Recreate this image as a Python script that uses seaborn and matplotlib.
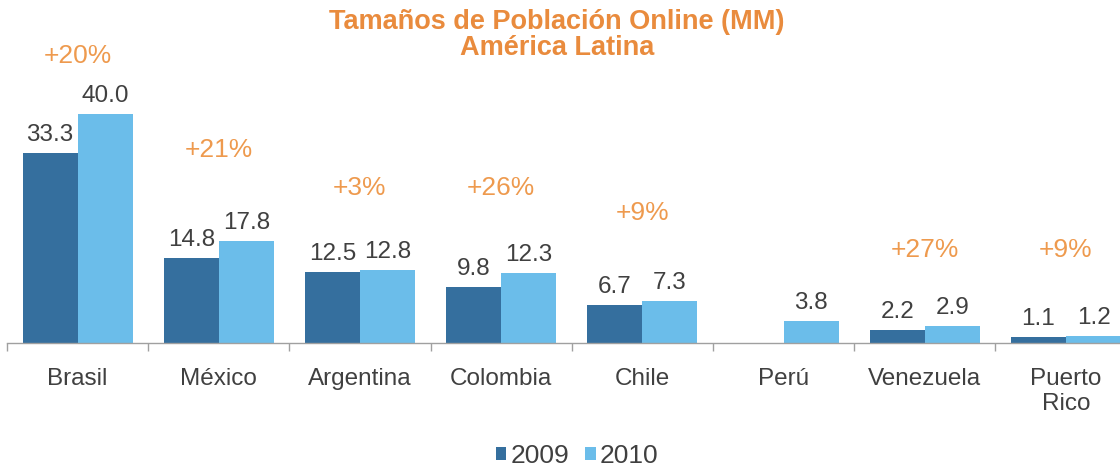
import numpy as np
import pandas as pd
import matplotlib
matplotlib.use("Agg")
import matplotlib.pyplot as plt
from matplotlib.patches import Patch
import seaborn as sns

# ---- data ----
paises = ["Brasil", "México", "Argentina", "Colombia", "Chile", "Perú", "Venezuela", "Puerto\nRico"]
v2009 = [33.3, 14.8, 12.5, 9.8, 6.7, np.nan, 2.2, 1.1]
v2010 = [40.0, 17.8, 12.8, 12.3, 7.3, 3.8, 2.9, 1.2]
crecimiento = ["+20%", "+21%", "+3%", "+26%", "+9%", "", "+27%", "+9%"]
anios = ["2009", "2010"]

# label heights for growth annotations (layout, in data units)
crec_y = [50.2, 33.8, 27.2, 27.2, 22.8, 0, 16.2, 16.2]

dark = "#356F9E"
light = "#6BBDEA"
orange = "#EE9A4E"
title_orange = "#E98B3D"
txt = "#404040"

df = pd.DataFrame({
    "País": paises * 2,
    "Usuarios": v2009 + v2010,
    "Año": [anios[0]] * len(paises) + [anios[1]] * len(paises),
})

sns.set_style("white")
plt.rcParams["font.family"] = ["Liberation Sans", "DejaVu Sans"]

fig = plt.figure(figsize=(11.2, 4.7), dpi=100)
W, H = 1120, 470
ax = fig.add_axes([7 / W, 127 / H, 8 * 141.2 / W, 343 / H])

sns.barplot(data=df, x="País", y="Usuarios", hue="Año", order=paises,
            hue_order=anios, palette=[dark, light], width=0.78,
            saturation=1, errorbar=None, legend=False, linewidth=0, ax=ax)

ax.set_xlim(-0.5, 7.5)
ax.set_ylim(0, 60.0)

# value labels
for cont in ax.containers:
    labs = ["" if (v is None or np.isnan(v)) else f"{v:.1f}" for v in cont.datavalues]
    ax.bar_label(cont, labels=labs, padding=5, fontsize=17.5, color=txt)

# growth labels
for i, (t, yy) in enumerate(zip(crecimiento, crec_y)):
    if t:
        ax.text(i, yy, t, ha="center", va="center", fontsize=19, color=orange)

# axes styling
for s in ["top", "left", "right"]:
    ax.spines[s].set_visible(False)
ax.spines["bottom"].set_color("#A0A0A0")
ax.spines["bottom"].set_linewidth(1.0)
ax.set_yticks([])
ax.set_xlabel("")
ax.set_ylabel("")
ax.set_xticks(range(len(paises)))
ax.set_xticklabels(paises, fontsize=17.5, color=txt)
ax.tick_params(axis="x", which="major", length=0, pad=18)
ax.set_xticks(np.arange(-0.5, len(paises) + 0.5, 1), minor=True)
ax.tick_params(axis="x", which="minor", bottom=True, length=6, width=1,
               color="#A0A0A0", direction="out")

# title
fig.text(557 / W, 1 - 22 / H, "Tamaños de Población Online (MM)", ha="center", va="center",
         fontsize=19.5, fontweight="bold", color=title_orange)
fig.text(557 / W, 1 - 48 / H, "América Latina", ha="center", va="center",
         fontsize=19.5, fontweight="bold", color=title_orange)

# legend
handles = [Patch(facecolor=dark, edgecolor="none"), Patch(facecolor=light, edgecolor="none")]
fig.legend(handles, anios, loc="center", bbox_to_anchor=(577 / W, 1 - 456 / H), ncol=2,
           frameon=False, fontsize=19, handlelength=0.4, handleheight=0.4,
           handletextpad=0.15, columnspacing=0.6, labelcolor=txt)

fig.savefig("out.png", dpi=100)
